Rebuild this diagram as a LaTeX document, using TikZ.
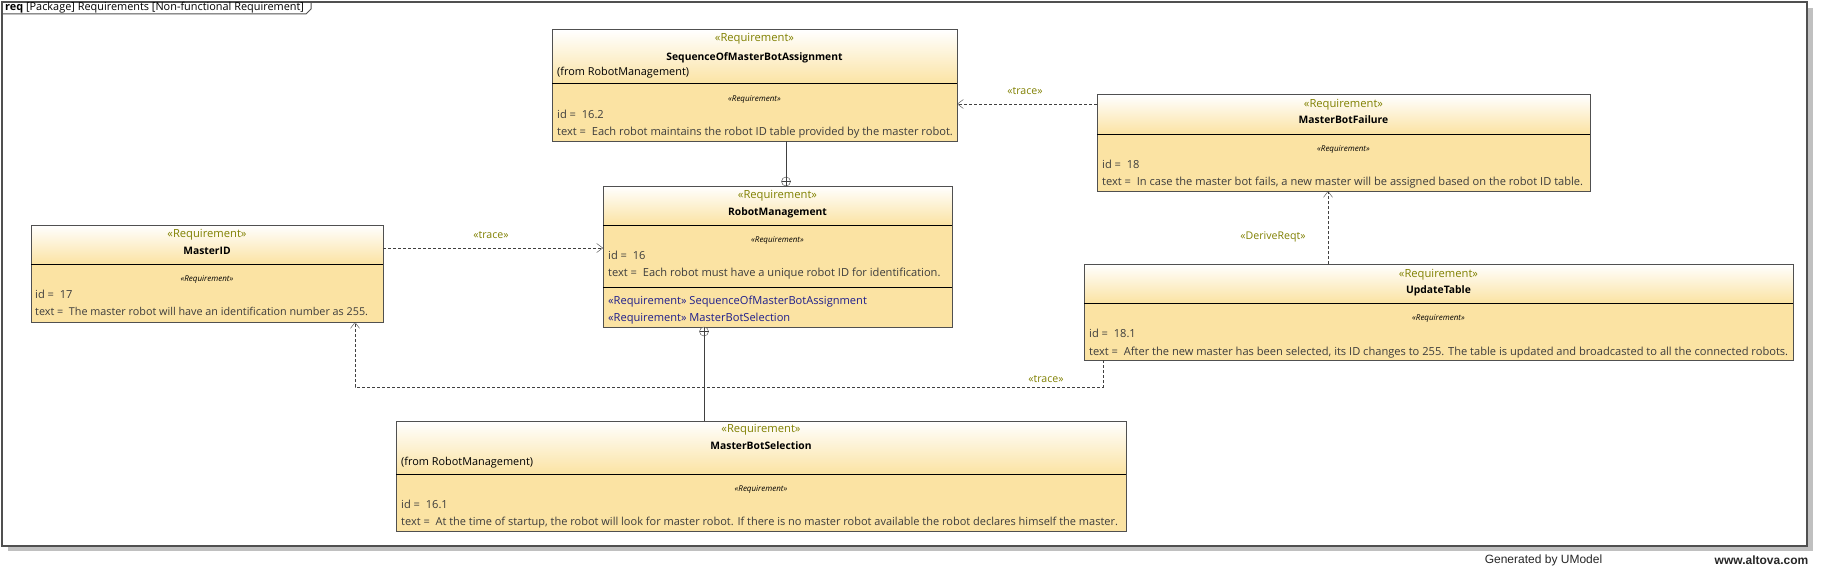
\documentclass[tikz,border=0pt]{standalone}
\usepackage{fontspec}
\setmainfont{Open Sans}
\newfontfamily\footfont{Liberation Sans}
\usetikzlibrary{arrows.meta,calc}
\definecolor{reqfill}{HTML}{FBE3A3}
\definecolor{boxline}{HTML}{505050}
\definecolor{linegray}{HTML}{404040}
\definecolor{stereo}{HTML}{808000}
\definecolor{bodytext}{HTML}{3C3C3C}
\definecolor{refblue}{HTML}{1E1E8C}
\definecolor{shadowgray}{HTML}{C0C0C0}

\begin{document}
\begin{tikzpicture}[x=1pt,y=-1pt,
  every node/.style={inner sep=0pt, font=\fontsize{11.1}{12}\selectfont},
  reqbox/.style={draw=boxline, fill=reqfill, line width=1pt, inner sep=0pt, outer sep=0pt},
  st/.style={text=stereo, font=\fontsize{11.2}{12}\selectfont, text height=8pt, text depth=2pt},
  nm/.style={font=\fontsize{10.3}{12}\selectfont\bfseries, text height=8pt, text depth=2pt},
  sm/.style={font=\fontsize{8}{9}\selectfont\itshape, text height=6pt, text depth=1.5pt},
  tx/.style={anchor=west, text=bodytext, text height=8pt, text depth=2pt},
  rf/.style={anchor=west, text=refblue, text height=8pt, text depth=2pt},
  lbl/.style={text=stereo, font=\fontsize{10.6}{12}\selectfont, text height=8pt, text depth=2pt},
  sepline/.style={draw=black, line width=1pt},
  trace/.style={draw=linegray, dash pattern=on 3pt off 2pt, -{Straight Barb[length=6pt,width=9pt]}},
  own/.style={draw=linegray, line width=1pt},
  cplus/.style={circle, draw=linegray, fill=white, minimum size=9pt, outer sep=0pt}
]
\useasboundingbox (0,0) rectangle (1824,586);
% diagram frame
\fill[shadowgray] (8,8) rectangle (1813,551);
\draw[boxline, fill=white, line width=1.5pt] (2,2) rectangle (1807,546);
\draw[boxline, line width=1pt] (2,14) -- (306,14) -- (311,9) -- (311,2);
\node[anchor=west, font=\fontsize{10.9}{12}\selectfont, text height=8pt, text depth=2pt] (title) at (5,8) {\textbf{req} [Package] Requirements [Non-functional Requirement]};

% SequenceOfMasterBotAssignment
\node[reqbox, minimum width=405, minimum height=111] (seq) at (754.5,85.5) {};
\shade[top color=white, bottom color=reqfill] (seq.north west) rectangle ($(seq.north east)+(0,54)$);
\draw[boxline, line width=1pt] (seq.north west) rectangle (seq.south east);
\draw[sepline] ($(seq.north west)+(0,54)$) -- ($(seq.north east)+(0,54)$);
\node[st] (seqst) at (754.5,39) {«Requirement»};
\node[nm] (seqnm) at (754.5,57) {SequenceOfMasterBotAssignment};
\node[tx, text=black, font=\fontsize{10.9}{12}\selectfont] (seqfr) at (557,72) {(from RobotManagement)};
\node[sm] (seqsm) at (754.5,99) {«Requirement»};
\node[tx] (seqid) at (557,115) {id =\ \ 16.2};
\node[tx] (seqtx) at (557,132) {text =\ \ Each robot maintains the robot ID table provided by the master robot.};

% RobotManagement
\node[reqbox, minimum width=349, minimum height=141] (rm) at (777.5,256.5) {};
\shade[top color=white, bottom color=reqfill] (rm.north west) rectangle ($(rm.north east)+(0,39)$);
\draw[boxline, line width=1pt] (rm.north west) rectangle (rm.south east);
\draw[sepline] ($(rm.north west)+(0,39)$) -- ($(rm.north east)+(0,39)$);
\draw[sepline] ($(rm.north west)+(0,101)$) -- ($(rm.north east)+(0,101)$);
\node[st] (rmst) at (777.5,195) {«Requirement»};
\node[nm] (rmnm) at (777.5,212) {RobotManagement};
\node[sm] (rmsm) at (777.5,240) {«Requirement»};
\node[tx] (rmid) at (608,256) {id =\ \ 16};
\node[tx] (rmtx) at (608,273) {text =\ \ Each robot must have a unique robot ID for identification.};
\node[rf] (rmrf1) at (608,301) {«Requirement» SequenceOfMasterBotAssignment};
\node[rf] (rmrf2) at (608,318) {«Requirement» MasterBotSelection};

% MasterID
\node[reqbox, minimum width=352, minimum height=97] (mid) at (207,273.5) {};
\shade[top color=white, bottom color=reqfill] (mid.north west) rectangle ($(mid.north east)+(0,39)$);
\draw[boxline, line width=1pt] (mid.north west) rectangle (mid.south east);
\draw[sepline] ($(mid.north west)+(0,39)$) -- ($(mid.north east)+(0,39)$);
\node[st] (midst) at (207,234) {«Requirement»};
\node[nm] (midnm) at (207,251) {MasterID};
\node[sm] (midsm) at (207,279) {«Requirement»};
\node[tx] (midid) at (35,295) {id =\ \ 17};
\node[tx, font=\fontsize{10.8}{12}\selectfont] (midtx) at (35,312) {text =\ \ The master robot will have an identification number as 255.};

% MasterBotFailure
\node[reqbox, minimum width=493, minimum height=96] (mbf) at (1343.5,143) {};
\shade[top color=white, bottom color=reqfill] (mbf.north west) rectangle ($(mbf.north east)+(0,39)$);
\draw[boxline, line width=1pt] (mbf.north west) rectangle (mbf.south east);
\draw[sepline] ($(mbf.north west)+(0,39)$) -- ($(mbf.north east)+(0,39)$);
\node[st] (mbfst) at (1343.5,104) {«Requirement»};
\node[nm] (mbfnm) at (1343.5,121) {MasterBotFailure};
\node[sm] (mbfsm) at (1343.5,149) {«Requirement»};
\node[tx] (mbfid) at (1102,165) {id =\ \ 18};
\node[tx] (mbftx) at (1102,182) {text =\ \ In case the master bot fails, a new master will be assigned based on the robot ID table.};

% UpdateTable
\node[reqbox, minimum width=709, minimum height=96] (upd) at (1438.5,312) {};
\shade[top color=white, bottom color=reqfill] (upd.north west) rectangle ($(upd.north east)+(0,39)$);
\draw[boxline, line width=1pt] (upd.north west) rectangle (upd.south east);
\draw[sepline] ($(upd.north west)+(0,39)$) -- ($(upd.north east)+(0,39)$);
\node[st] (updst) at (1438.5,274) {«Requirement»};
\node[nm] (updnm) at (1438.5,290) {UpdateTable};
\node[sm] (updsm) at (1438.5,318) {«Requirement»};
\node[tx] (updid) at (1089,334) {id =\ \ 18.1};
\node[tx] (updtx) at (1089,352) {text =\ \ After the new master has been selected, its ID changes to 255. The table is updated and broadcasted to all the connected robots.};

% MasterBotSelection
\node[reqbox, minimum width=730, minimum height=110] (mbs) at (761,476) {};
\shade[top color=white, bottom color=reqfill] (mbs.north west) rectangle ($(mbs.north east)+(0,53)$);
\draw[boxline, line width=1pt] (mbs.north west) rectangle (mbs.south east);
\draw[sepline] ($(mbs.north west)+(0,53)$) -- ($(mbs.north east)+(0,53)$);
\node[st] (mbsst) at (761,429) {«Requirement»};
\node[nm] (mbsnm) at (761,446) {MasterBotSelection};
\node[tx, text=black, font=\fontsize{10.9}{12}\selectfont] (mbsfr) at (401,462) {(from RobotManagement)};
\node[sm] (mbssm) at (761,489) {«Requirement»};
\node[tx] (mbsid) at (401,505) {id =\ \ 16.1};
\node[tx, font=\fontsize{11}{12}\selectfont] (mbstx) at (401,522) {text =\ \ At the time of startup, the robot will look for master robot. If there is no master robot available the robot declares himself the master.};

% containment
\node[cplus] (own1) at (786,181.5) {};
\draw[own] (own1.north) -- (own1.south) (own1.west) -- (own1.east);
\draw[own] (seq.south -| own1) -- (own1.north);
\node[cplus] (own2) at (704,331.5) {};
\draw[own] (own2.north) -- (own2.south) (own2.west) -- (own2.east);
\draw[own] (own2.south) -- (mbs.north -| own2);

% trace and derive
\draw[trace] ($(mid.north east)+(0,23)$) -- ($(rm.north west)+(0,62)$);
\node[lbl] (tr1) at (491,235) {«trace»};
\draw[trace] ($(mbf.north west)+(0,9)$) -- ($(seq.north east)+(0,74)$);
\node[lbl] (tr2) at (1025,92) {«trace»};
\draw[trace] (upd.north -| 1328,0) -- (mbf.south -| 1328,0);
\node[lbl] (drv) at (1273,236) {«DeriveReqt»};
\draw[trace] (upd.south -| 1103,0) -- ++(0,27) -| (mid.south -| 355,0);
\node[lbl] (tr3) at (1046,379) {«trace»};

% footer
\node[font=\footfont\fontsize{12}{14}\selectfont, text=black!85] (gen) at (1543.5,560) {Generated by UModel};
\node[font=\footfont\fontsize{12}{14}\selectfont\bfseries, text=black!85] (alt) at (1761.5,560) {www.altova.com};
\end{tikzpicture}
\end{document}
